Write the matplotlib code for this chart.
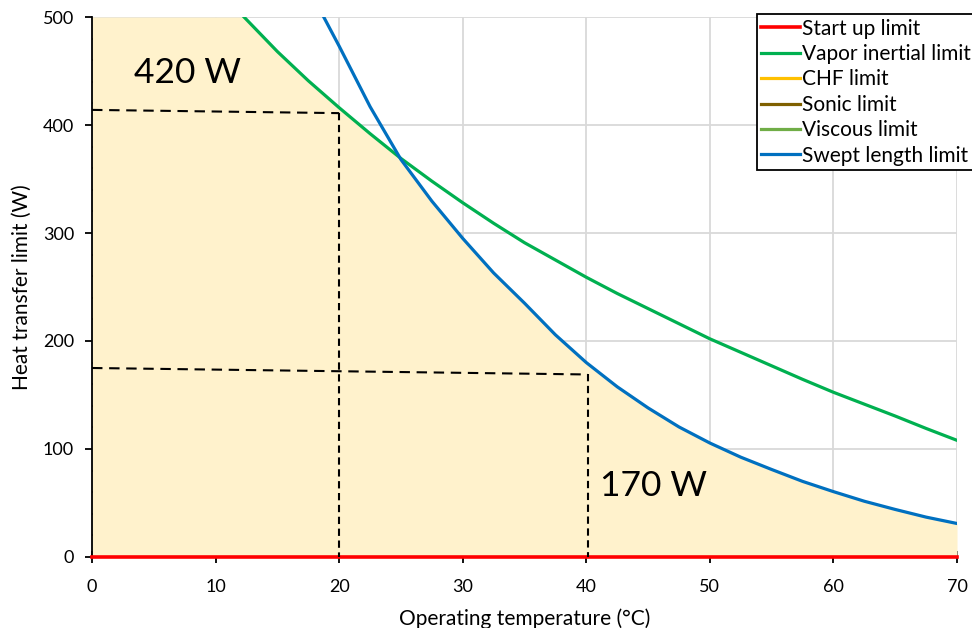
import matplotlib
matplotlib.use("Agg")
import matplotlib.pyplot as plt
import numpy as np

plt.rcParams['font.family'] = ['Lato', 'DejaVu Sans']

# --- data ---
vapor_T = [12.3, 15, 17.5, 20, 22.5, 25, 27.5, 30, 32.5, 35, 37.5, 40, 42.5, 45,
           47.5, 50, 52.5, 55, 57.5, 60, 62.5, 65, 67.5, 70]
vapor_Q = [500, 468, 441, 416, 392, 369, 348, 328, 309, 291, 275, 259, 244, 230,
           216, 202, 189.5, 177, 164.5, 152.5, 141.5, 130.5, 119, 108]

swept_T = [18.75, 20, 22.5, 25, 27.5, 30, 32.5, 35, 37.5, 40, 42.5, 45, 47.5, 50,
           52.5, 55, 57.5, 60, 62.5, 65, 67.5, 70]
swept_Q = [500, 473, 417, 368, 329.5, 295, 263, 235, 205.7, 180, 157.6, 138, 120.4, 105.5,
           92.4, 81, 70, 60.5, 51.6, 44, 36.9, 31]

startup_T = [0, 70]
startup_Q = [0, 0]

# dashed guide lines (hand-drawn in reference)
guide_h1_T = [0, 20]
guide_h1_Q = [414, 411]
guide_v1_T = [20, 20]
guide_v1_Q = [411, 0]
guide_h2_T = [0, 20, 40.1]
guide_h2_Q = [175, 172, 169]
guide_v2_T = [40.1, 40.1]
guide_v2_Q = [169, 0]

labels = ["Start up limit", "Vapor inertial limit", "CHF limit",
          "Sonic limit", "Viscous limit", "Swept length limit"]
colors = ["#FF0000", "#00B050", "#FFC000", "#7F6000", "#70AD47", "#0070C0"]

annot_text = ["420 W", "170 W"]
annot_T = [3.4, 41.1]
annot_Q = [448, 66]

# --- figure ---
fig = plt.figure(figsize=(9.72, 6.28), dpi=100)
ax = fig.add_axes([0.0947, 0.1131, 0.8899, 0.8598])

# shaded feasible region: under the minimum of the limits
Tfill = np.union1d(np.union1d(vapor_T, swept_T), [0])
vq = np.interp(Tfill, vapor_T, vapor_Q, left=500)
sq = np.interp(Tfill, swept_T, swept_Q, left=500)
top = np.minimum(np.minimum(vq, sq), 500)
ax.fill_between(Tfill, 0, top, color="#FFF2CC", zorder=1, linewidth=0)

lw = 2.3
ax.plot(startup_T, startup_Q, color=colors[0], lw=2.6, label=labels[0], zorder=4, clip_on=False)
ax.plot(vapor_T, vapor_Q, color=colors[1], lw=lw, label=labels[1], zorder=4)
ax.plot([], [], color=colors[2], lw=lw, label=labels[2])
ax.plot([], [], color=colors[3], lw=lw, label=labels[3])
ax.plot([], [], color=colors[4], lw=lw, label=labels[4])
ax.plot(swept_T, swept_Q, color=colors[5], lw=lw, label=labels[5], zorder=4)

hdash = (0, (5, 3.2))
vdash = (0, (3.5, 2.2))
ax.plot(guide_h1_T, guide_h1_Q, color="black", lw=1.5, ls=hdash, zorder=5)
ax.plot(guide_v1_T, guide_v1_Q, color="black", lw=1.5, ls=vdash, zorder=5)
ax.plot(guide_h2_T, guide_h2_Q, color="black", lw=1.5, ls=hdash, zorder=5)
ax.plot(guide_v2_T, guide_v2_Q, color="black", lw=1.5, ls=vdash, zorder=5)

for t, x, y in zip(annot_text, annot_T, annot_Q):
    ax.text(x, y, t, fontsize=25.5, va="center", ha="left", zorder=6)

ax.set_xlim(0, 70)
ax.set_ylim(0, 500)
ax.set_xticks(np.arange(0, 71, 10))
ax.set_yticks(np.arange(0, 501, 100))
ax.set_xticks(np.arange(0, 71, 2), minor=True)
ax.set_yticks(np.arange(0, 501, 20), minor=True)
ax.tick_params(axis="x", which="major", direction="inout", length=9, width=1.3, labelsize=13, pad=11)
ax.tick_params(axis="y", which="major", direction="out", length=5, width=1.3, labelsize=13, pad=8)
ax.tick_params(which="minor", direction="in", length=3.5, width=1.3)

ax.grid(True, which="major", color="#D9D9D9", lw=1.3, zorder=0)
ax.set_axisbelow(True)
for s in ["top", "right"]:
    ax.spines[s].set_visible(False)
for s in ["left", "bottom"]:
    ax.spines[s].set_linewidth(1.3)
ax.spines["bottom"].set_zorder(3)

ax.set_xlabel("Operating temperature (°C)", fontsize=15, labelpad=10)
ax.set_ylabel("Heat transfer limit (W)", fontsize=15, labelpad=8)

leg = ax.legend(loc="upper right", bbox_to_anchor=(1.003, 0.977),
                bbox_transform=fig.transFigure, fontsize=15,
                frameon=True, fancybox=False, framealpha=1, edgecolor="black",
                handlelength=1.85, handletextpad=0.1, labelspacing=0.26,
                borderpad=0.2, borderaxespad=0)
leg.get_frame().set_linewidth(1.3)
leg.set_zorder(10)

fig.savefig("out.png", dpi=100)
